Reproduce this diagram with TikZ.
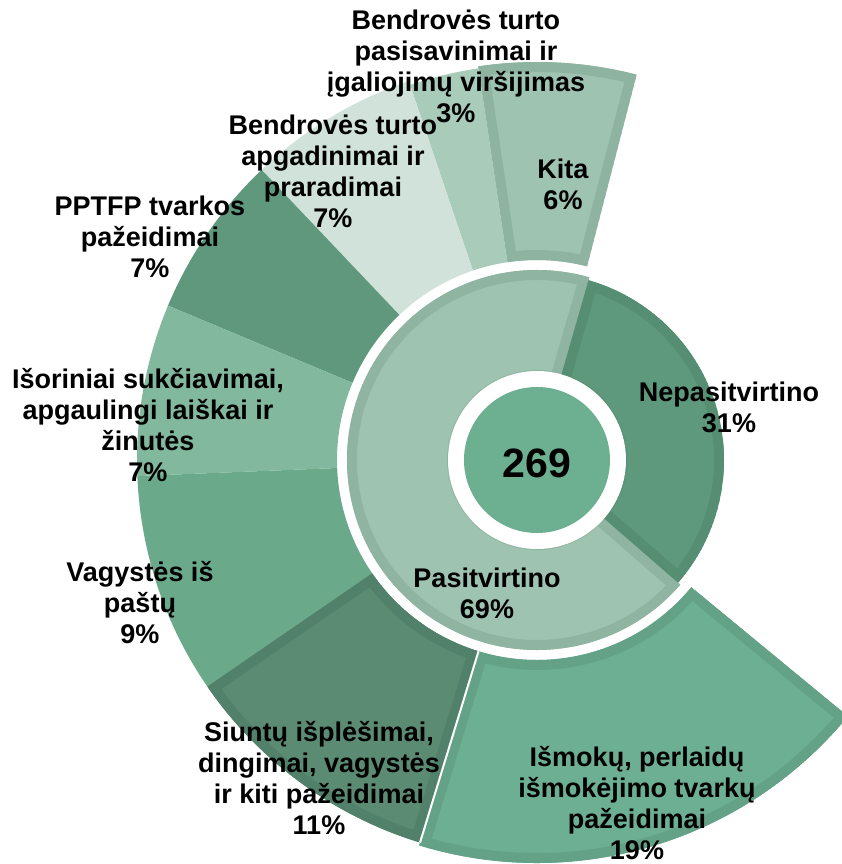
\documentclass[tikz,border=0pt]{standalone}
\usepackage{fontspec}
\setmainfont{Liberation Sans}
\definecolor{mid}{HTML}{6DAF91}
\definecolor{pas}{HTML}{9EC4B1}
\definecolor{pasB}{HTML}{8FB5A2}
\definecolor{nep}{HTML}{5F997D}
\definecolor{nepB}{HTML}{568E73}
\definecolor{kita}{HTML}{9EC4B1}
\definecolor{kitaB}{HTML}{8EB3A0}
\definecolor{pasis}{HTML}{A8CBBA}
\definecolor{apgad}{HTML}{D0E2D9}
\definecolor{pptfp}{HTML}{5F987C}
\definecolor{isor}{HTML}{82B89D}
\definecolor{vag}{HTML}{6AAA8B}
\definecolor{siunt}{HTML}{5B8C73}
\definecolor{siuntB}{HTML}{51816A}
\definecolor{ismok}{HTML}{6DAF92}
\definecolor{ismokB}{HTML}{63A286}
\tikzstyle{lbl}=[font=\bfseries\fontsize{27}{31}\selectfont,align=center,inner sep=0pt]
\tikzstyle{total}=[font=\bfseries\fontsize{41}{45}\selectfont,inner sep=0pt]
% ring piece: start angle, end angle, inner radius, outer radius
\newcommand{\sect}[4]{(#1:#3) arc[start angle=#1,end angle=#2,radius=#3] -- (#2:#4) arc[start angle=#2,end angle=#1,radius=#4] -- cycle}
% ring piece with a darker band inside its edge
\newcommand{\bseg}[6]{%
  \begin{scope}
    \clip \sect{#1}{#2}{#3}{#4};
    \fill[#5] \sect{#1}{#2}{#3}{#4};
    \draw[#6,line width=20pt] \sect{#1}{#2}{#3}{#4};
  \end{scope}}

\begin{document}
\begin{tikzpicture}[x=1pt,y=1pt]
        \useasboundingbox (-537,-404) rectangle (304,460);

        % outer ring
        \bseg{75.5}{98.5}{200}{398}{kita}{kitaB}
        \fill[pasis] \sect{98.5}{108.7}{200}{396};
        \fill[apgad] \sect{108.7}{133.5}{200}{400};
        \fill[pptfp] \sect{133.5}{157.3}{200}{400};
        \fill[isor] \sect{157.3}{182.3}{200}{400};
        \fill[vag] \sect{182.3}{214.5}{200}{400};
        \bseg{214.5}{253}{200}{400}{siunt}{siuntB}
        \bseg{253}{320.5}{200}{403}{ismok}{ismokB}
        \draw[white,line width=2pt] (253:200) -- (253:400);

        % middle ring
        \bseg{74}{319}{80}{190}{pas}{pasB}
        \bseg{-41}{74}{80}{187}{nep}{nepB}

        % centre
        \fill[white] (0,0) circle[radius=89];
        \fill[mid] (0,0) circle[radius=73];
        \node[total] (sum) at (0,-3) {269};

        \node[lbl] (nepas) at (192,52.5) {Nepasitvirtino\\31\%};
        \node[lbl] (pasit) at (-50,-133) {Pasitvirtino\\69\%};

        \node[lbl] (kitalbl) at (26,276) {Kita\\6\%};
        \node[lbl] (pasislbl) at (-81,394) {Bendrovės turto\\pasisavinimai ir\\įgaliojimų viršijimas\\3\%};
        \node[lbl] (apgadlbl) at (-204,289) {Bendrovės turto\\apgadinimai ir\\praradimai\\7\%};
        \node[lbl] (pptfplbl) at (-387,223.5) {PPTFP tvarkos\\pažeidimai\\7\%};
        \node[lbl] (isorlbl) at (-389,35) {Išoriniai sukčiavimai,\\apgaulingi laiškai ir\\žinutės\\7\%};
        \node[lbl] (vaglbl) at (-397,-143) {Vagystės iš\\paštų\\9\%};
        \node[lbl] (siuntlbl) at (-218,-318) {Siuntų išplėšimai,\\dingimai, vagystės\\ir kiti pažeidimai\\11\%};
        \node[lbl] (ismoklbl) at (100,-343) {Išmokų, perlaidų\\išmokėjimo tvarkų\\pažeidimai\\19\%};
      \end{tikzpicture}
\end{document}
